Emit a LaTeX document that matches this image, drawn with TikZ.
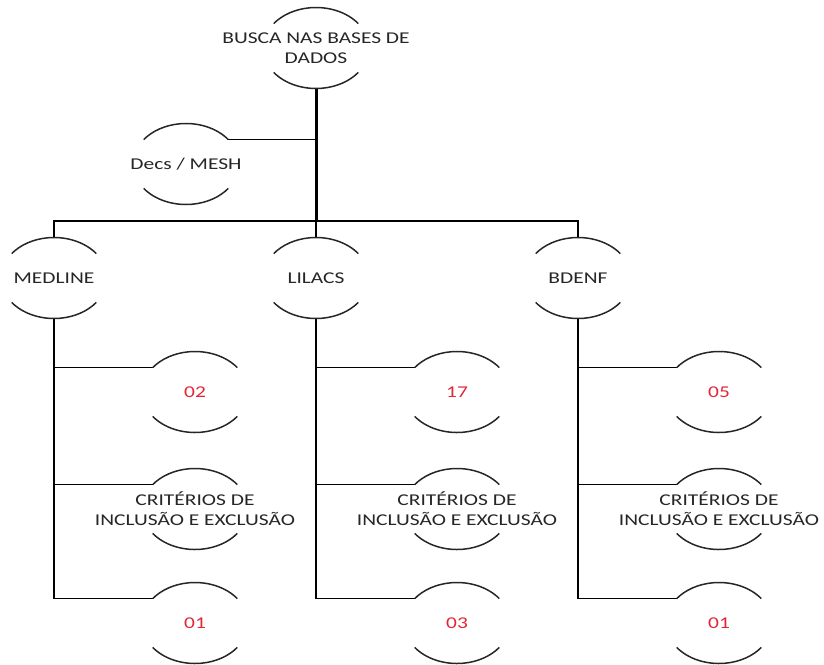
\documentclass[tikz,border=0pt]{standalone}
\usepackage{fontspec}
\setmainfont{Carlito}[FakeStretch=1.3]
\usepackage{tikz}
\usetikzlibrary{shapes.geometric}
\definecolor{numred}{RGB}{226,38,54}
\definecolor{ink}{RGB}{38,38,38}

\tikzset{
  bubble/.style={ellipse,minimum width=106pt,minimum height=81pt,inner sep=0pt,outer sep=0pt},
  txt/.style={font=\fontsize{16.5}{20}\selectfont,text=ink,align=center,inner sep=0pt},
  num/.style={txt,text=numred},
  link/.style={line width=1.7pt},
  trunk/.style={line width=3pt},
  rim/.style={line width=1.5pt,ink}
}

\begin{document}
\begin{tikzpicture}[x=1pt,y=1pt]
    \useasboundingbox (0,0) rectangle (824,-664);
    % top of the tree
    \node[bubble,label={[txt]center:{BUSCA NAS BASES DE\\DADOS}}] (busca) at (316,-48) {};
    \node[bubble,label={[txt]center:{Decs / MESH}}] (decs) at (186,-164) {};
    \coordinate (bus) at (316,-221);
    \node[bubble,label={[txt]center:{MEDLINE}}] (medline) at (54,-278) {};
    \node[bubble,label={[txt]center:{LILACS}}] (lilacs) at (316,-278) {};
    \node[bubble,label={[txt]center:{BDENF}}] (bdenf) at (578,-278) {};
    \draw[trunk] (busca.south) -- (bus);
    \draw[link] (bus) -- (lilacs.north);
    \draw[link] (medline.north) |- (bus) -| (bdenf.north);
    \draw[link] (decs.30) -- (decs.30 -| busca.south);
    % one column per base
    \foreach \base/\x/\first/\last in {medline/195/02/01,lilacs/457/17/03,bdenf/719/05/01} {
      \node[bubble,label={[num]center:{\first}}] (\base1) at (\x,-392) {};
      \node[bubble,label={[txt]center:{CRITÉRIOS DE\\INCLUSÃO E EXCLUSÃO}}] (\base2) at (\x,-509) {};
      \node[bubble,label={[num]center:{\last}}] (\base3) at (\x,-623) {};
      \draw[link] (\base.south) |- (\base3.150);
      \draw[link] (\base1.150) -- (\base1.150 -| \base.south);
      \draw[link] (\base2.150) -- (\base2.150 -| \base.south);
    }
    % the open rims
    \foreach \n in {busca,decs,medline,lilacs,bdenf,medline1,medline2,medline3,lilacs1,lilacs2,lilacs3,bdenf1,bdenf2,bdenf3} {
      \draw[rim] (\n.center) ++(37:53pt and 40.5pt) arc[start angle=37,end angle=143,x radius=53pt,y radius=40.5pt];
      \draw[rim] (\n.center) ++(217:53pt and 40.5pt) arc[start angle=217,end angle=323,x radius=53pt,y radius=40.5pt];
    }
\end{tikzpicture}
\end{document}
